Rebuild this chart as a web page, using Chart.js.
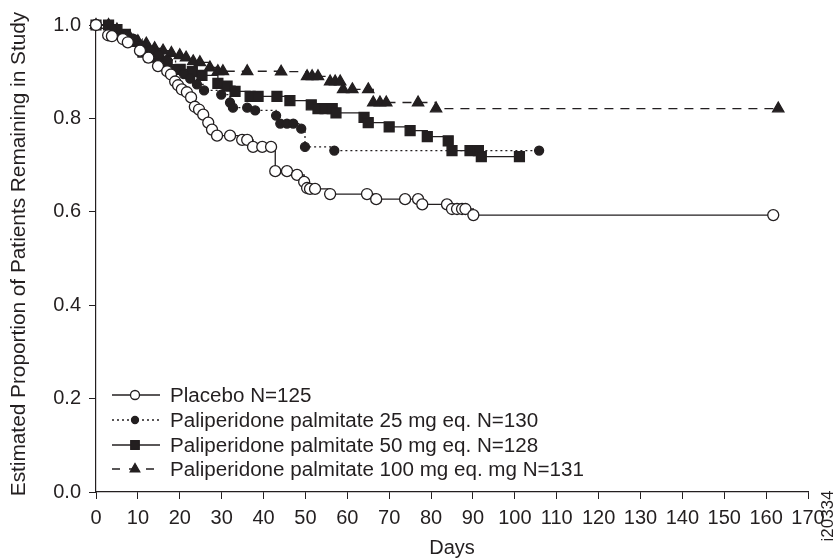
<!DOCTYPE html>
<html>
<head>
<meta charset="utf-8">
<script src="https://cdn.jsdelivr.net/npm/chart.js@4"></script>
<style>
  html, body { margin: 0; padding: 0; background: #fff; }
  #wrap { width: 840px; height: 559px; }
</style>
</head>
<body>
<div id="wrap"><canvas id="kmChart" width="840" height="559"></canvas></div>
<script>
// Kaplan-Meier data (days, estimated proportion)
const placeboDays = [0, 2.9, 3.8, 6.4, 7.6, 10.5, 12.5, 14.8, 17.0, 17.9, 18.9, 19.6, 20.5, 21.7, 22.7, 23.6, 24.6, 25.6, 26.8, 27.7, 28.9, 32.0, 34.9, 36.1, 37.5, 39.7, 41.8, 42.8, 45.6, 48.0, 49.7, 50.4, 51.1, 52.3, 55.9, 64.7, 66.9, 73.8, 76.9, 77.9, 83.8, 85.0, 86.2, 87.4, 88.2, 90.1, 161.7];
const placeboValues = [1.0, 0.978, 0.976, 0.970, 0.963, 0.945, 0.93, 0.912, 0.901, 0.894, 0.879, 0.871, 0.862, 0.856, 0.845, 0.825, 0.819, 0.808, 0.791, 0.776, 0.763, 0.763, 0.754, 0.754, 0.739, 0.739, 0.739, 0.687, 0.687, 0.679, 0.664, 0.651, 0.649, 0.649, 0.638, 0.638, 0.627, 0.627, 0.627, 0.616, 0.616, 0.606, 0.606, 0.606, 0.606, 0.593, 0.593];

const pp25Days = [0, 4, 7, 9, 11, 13, 15, 17, 19, 21, 22.5, 24.1, 25.8, 29.9, 32.0, 32.7, 36.1, 38.0, 43.0, 44.0, 45.6, 47.1, 49.0, 49.9, 56.9, 105.8];
const pp25Values = [1.0, 0.99, 0.98, 0.97, 0.955, 0.945, 0.935, 0.925, 0.905, 0.895, 0.885, 0.873, 0.86, 0.851, 0.834, 0.823, 0.823, 0.817, 0.806, 0.789, 0.789, 0.789, 0.778, 0.739, 0.731, 0.731];

const pp50Days = [0, 3, 5, 7, 9, 11.2, 12.9, 15, 17, 20.1, 23, 25.3, 29.1, 31.3, 33.2, 36.8, 38.7, 43.2, 46.3, 51.4, 53.0, 54.7, 56.4, 57.3, 64.0, 65.0, 70.0, 75.0, 79.1, 84.1, 85.0, 89.3, 91.3, 92.0, 101.1];
const pp50Values = [1.0, 1.0, 0.99, 0.98, 0.965, 0.942, 0.931, 0.925, 0.915, 0.905, 0.9, 0.892, 0.875, 0.869, 0.858, 0.847, 0.847, 0.847, 0.838, 0.829, 0.821, 0.821, 0.821, 0.812, 0.802, 0.791, 0.782, 0.774, 0.761, 0.752, 0.731, 0.731, 0.731, 0.718, 0.718];

const pp100Days = [0, 3, 5, 8, 10, 12, 14, 16, 18, 20, 21.5, 23.2, 24.8, 27.2, 29.1, 30.3, 36.1, 44.2, 50.4, 51.6, 53.0, 55.9, 57.1, 58.3, 59.0, 61.2, 65.0, 66.2, 67.8, 69.3, 76.9, 81.2, 162.9];
const pp100Values = [1.0, 1.0, 0.99, 0.975, 0.965, 0.96, 0.95, 0.945, 0.94, 0.935, 0.93, 0.922, 0.92, 0.909, 0.901, 0.901, 0.901, 0.9, 0.89, 0.89, 0.89, 0.879, 0.879, 0.879, 0.862, 0.862, 0.862, 0.834, 0.834, 0.834, 0.834, 0.821, 0.821];

const seriesLabels = [
  'Placebo N=125',
  'Paliperidone palmitate 25 mg eq. N=130',
  'Paliperidone palmitate 50 mg eq. N=128',
  'Paliperidone palmitate 100 mg eq. mg N=131'
];
const xTicks = [0, 10, 20, 30, 40, 50, 60, 70, 80, 90, 100, 110, 120, 130, 140, 150, 160, 170];
const yTicks = [0.0, 0.2, 0.4, 0.6, 0.8, 1.0];

const ink = '#231f20';
const fontFam = '"Liberation Sans", Arial, Helvetica, sans-serif';

function toPoints(days, vals) {
  return days.map((d, i) => ({ x: d, y: vals[i] }));
}

// stile per serie
const styles = [
  { pointStyle: 'circle', radius: 5.5, fill: '#fff', dash: [] },
  { pointStyle: 'circle', radius: 4.5, fill: ink, dash: [2, 3] },
  { pointStyle: 'rect', radius: 7, fill: ink, dash: [] },
  { pointStyle: 'triangle', radius: 6.5, fill: ink, dash: [9, 7] }
];

const allData = [
  toPoints(placeboDays, placeboValues),
  toPoints(pp25Days, pp25Values),
  toPoints(pp50Days, pp50Values),
  toPoints(pp100Days, pp100Values)
];

const datasets = allData.map((pts, i) => ({
  label: seriesLabels[i],
  data: pts,
  stepped: true,
  borderColor: ink,
  borderWidth: 1.3,
  borderDash: styles[i].dash,
  pointStyle: styles[i].pointStyle,
  pointRadius: styles[i].radius,
  pointBackgroundColor: styles[i].fill,
  pointBorderColor: ink,
  pointBorderWidth: 1.3,
  clip: false,
  fill: false
}));

// testo allargato in orizzontale come nel grafico originale
function wideText(ctx, txt, x, y, sx) {
  ctx.save();
  ctx.translate(x, y);
  ctx.scale(sx, 1);
  ctx.fillText(txt, 0, 0);
  ctx.restore();
}

// titoli, legenda interna ed etichetta laterale
const extraText = {
  id: 'extraText',
  afterDraw(chart) {
    const ctx = chart.ctx;
    const area = chart.chartArea;
    ctx.save();
    ctx.fillStyle = ink;

    // titolo asse y
    ctx.save();
    ctx.translate(19, 254);
    ctx.rotate(-Math.PI / 2);
    ctx.font = '20px ' + fontFam;
    ctx.textAlign = 'center';
    ctx.textBaseline = 'middle';
    wideText(ctx, 'Estimated Proportion of Patients Remaining in Study', 0, 0, 1.04);
    ctx.restore();

    // titolo asse x
    ctx.font = '20px ' + fontFam;
    ctx.textAlign = 'center';
    ctx.textBaseline = 'middle';
    ctx.fillText('Days', (area.left + area.right) / 2, 548);

    // codice immagine
    ctx.save();
    ctx.translate(828, 516);
    ctx.rotate(-Math.PI / 2);
    ctx.font = '17px ' + fontFam;
    ctx.textAlign = 'center';
    ctx.textBaseline = 'middle';
    ctx.fillText('i20334', 0, 0);
    ctx.restore();

    // legenda
    const rowY = [395, 420, 445, 469];
    ctx.font = '20px ' + fontFam;
    ctx.textAlign = 'left';
    ctx.textBaseline = 'middle';
    seriesLabels.forEach((lab, i) => {
      const y = rowY[i];
      const st = styles[i];
      ctx.save();
      ctx.strokeStyle = ink;
      ctx.lineWidth = 1.3;
      ctx.setLineDash(i === 3 ? [8, 9] : st.dash);
      ctx.beginPath();
      ctx.moveTo(112, y);
      ctx.lineTo(160, y);
      ctx.stroke();
      ctx.restore();
      ctx.save();
      ctx.fillStyle = st.fill;
      ctx.strokeStyle = ink;
      ctx.lineWidth = 1.3;
      Chart.helpers.drawPoint(ctx, { pointStyle: st.pointStyle, radius: st.radius - 1, borderWidth: 1.3 }, 135, y);
      ctx.restore();
      wideText(ctx, lab, 170, y + 1, 1.03);
    });
    ctx.restore();
  }
};

new Chart(document.getElementById('kmChart'), {
  type: 'line',
  data: { datasets },
  options: {
    responsive: false,
    animation: false,
    layout: { padding: { left: 0, right: 32, top: 25, bottom: 0 } },
    plugins: {
      legend: { display: false },
      tooltip: { enabled: false }
    },
    scales: {
      x: {
        type: 'linear',
        min: 0,
        max: 170,
        afterFit(scale) { scale.height = 67; },
        afterBuildTicks(scale) { scale.ticks = xTicks.map(v => ({ value: v })); },
        grid: { drawOnChartArea: false, drawTicks: true, tickLength: 7, color: ink, tickColor: ink },
        border: { display: true, color: ink, width: 1.2 },
        ticks: {
          color: ink,
          padding: 7,
          maxRotation: 0,
          autoSkip: false,
          font: { family: fontFam, size: 20 },
          callback: v => String(v)
        }
      },
      y: {
        min: 0,
        max: 1,
        afterFit(scale) { scale.width = 96; },
        afterBuildTicks(scale) { scale.ticks = yTicks.map(v => ({ value: v })); },
        grid: { drawOnChartArea: false, drawTicks: true, tickLength: 7, color: ink, tickColor: ink },
        border: { display: true, color: ink, width: 1.2 },
        ticks: {
          color: ink,
          padding: 8,
          font: { family: fontFam, size: 20 },
          callback: v => Number(v).toFixed(1)
        }
      }
    }
  },
  plugins: [extraText]
});
</script>
</body>
</html>
